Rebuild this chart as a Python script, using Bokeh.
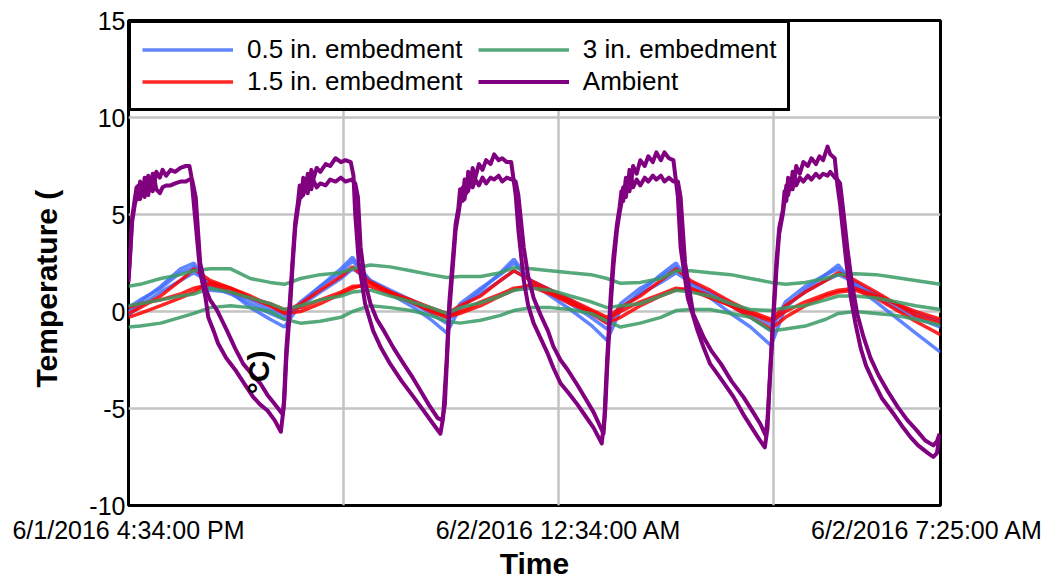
import math
from bokeh.plotting import figure
from bokeh.models import FixedTicker, Label, Legend, LegendItem, Title
from bokeh.embed import file_html
from bokeh.resources import INLINE

# ---------------- data (time in minutes after 6/1/2016 4:34:00 PM, temperature in deg C) -------------
tick_times = [0, 480, 891]
tick_labels = ["6/1/2016 4:34:00 PM", "6/2/2016 12:34:00 AM", "6/2/2016 7:25:00 AM"]
grid_times = [240, 480, 720]
y_ticks = [-10, -5, 0, 5, 10, 15]
y_tick_labels = ["-10", "-5", "0", "5", "10", "15"]

emb_t = [0, 13, 36, 58, 73, 91, 114, 136, 158, 174, 192, 214, 237, 250, 270, 292, 315, 337, 355, 370,
         393, 415, 430, 449, 471, 493, 516, 534, 549, 571, 594, 611, 627, 649, 672, 694, 717, 733, 755,
         778, 792, 811, 834, 856, 878, 906]

emb05_a = [0.0, 0.5, 1.3, 2.2, 2.5, 1.1, 1.0, 0.2, -0.4, -0.8, 0.4, 1.3, 2.2, 2.8, 1.5, 0.9, 0.3, -0.4, -1.1,
           0.2, 1.1, 2.0, 2.7, 1.5, 0.8, 0.1, -0.7, -1.5, 0.1, 1.0, 1.9, 2.5, 1.3, 0.7, -0.1, -0.8, -1.75,
           0.2, 1.1, 1.9, 2.4, 1.3, 0.5, -0.3, -1.1, -2.1]
emb05_b = [0.2, 0.6, 1.2, 2.0, 2.3, 1.3, 0.9, 0.4, -0.1, -0.4, 0.5, 1.3, 2.0, 2.6, 1.6, 1.0, 0.5, -0.1, -0.6,
           0.4, 1.2, 1.9, 2.5, 1.6, 1.0, 0.4, -0.3, -0.9, 0.4, 1.2, 1.8, 2.3, 1.5, 0.9, 0.3, -0.3, -1.0,
           0.5, 1.3, 1.9, 2.2, 1.4, 0.8, 0.2, -0.3, -0.8]
emb05_c = [-0.2, 0.3, 1.0, 1.6, 2.0, 1.5, 1.0, 0.6, 0.1, -0.2, 0.3, 1.0, 1.7, 2.2, 1.6, 1.1, 0.6, 0.1, -0.3,
           0.2, 0.9, 1.6, 2.1, 1.6, 1.1, 0.6, 0.0, -0.6, 0.2, 0.9, 1.5, 2.0, 1.5, 1.0, 0.4, -0.1, -0.7,
           0.3, 1.0, 1.6, 1.9, 1.5, 0.9, 0.4, -0.1, -0.5]

emb15_a = [-0.1, 0.2, 0.8, 1.6, 2.2, 1.6, 1.2, 0.7, 0.3, 0.0, 0.4, 1.1, 1.8, 2.3, 1.5, 1.0, 0.6, 0.2, -0.1,
           0.3, 0.8, 1.6, 2.1, 1.6, 1.1, 0.6, 0.1, -0.3, 0.2, 0.8, 1.6, 2.2, 1.6, 1.1, 0.5, 0.0, -0.4,
           0.3, 1.0, 1.6, 2.0, 1.6, 1.0, 0.4, -0.2, -0.6]
emb15_b = [-0.3, -0.1, 0.3, 0.7, 1.0, 1.5, 1.2, 0.8, 0.3, -0.1, 0.0, 0.4, 0.9, 1.2, 1.5, 1.0, 0.5, 0.0, -0.3,
           -0.1, 0.3, 0.8, 1.1, 1.4, 1.0, 0.5, -0.1, -0.6, -0.3, 0.3, 0.8, 1.1, 1.2, 0.8, 0.3, -0.3, -0.9,
           -0.3, 0.3, 0.8, 1.0, 1.1, 0.7, 0.1, -0.5, -1.2]
emb15_c = [0.2, 0.4, 0.6, 0.9, 1.2, 1.4, 1.0, 0.7, 0.4, 0.1, 0.2, 0.6, 1.0, 1.3, 1.3, 0.9, 0.5, 0.1, -0.2,
           0.0, 0.5, 0.9, 1.2, 1.3, 0.9, 0.4, 0.0, -0.4, 0.0, 0.5, 0.9, 1.2, 1.1, 0.7, 0.3, -0.1, -0.5,
           0.0, 0.5, 0.9, 1.1, 1.2, 0.8, 0.4, 0.0, -0.4]

emb3_a = [1.3, 1.4, 1.7, 1.9, 2.1, 2.2, 2.2, 1.7, 1.5, 1.4, 1.7, 1.9, 2.0, 2.2, 2.4, 2.3, 2.1, 1.9, 1.75,
          1.8, 1.8, 2.0, 2.25, 2.2, 2.1, 2.0, 1.9, 1.7, 1.45, 1.5, 1.7, 2.1, 2.1, 2.0, 1.9, 1.7, 1.5,
          1.4, 1.5, 1.7, 1.9, 1.95, 1.9, 1.75, 1.6, 1.4]
emb3_b = [0.3, 0.4, 0.6, 0.8, 0.9, 1.2, 1.0, 0.7, 0.4, 0.1, 0.3, 0.6, 0.8, 1.0, 1.1, 0.8, 0.5, 0.2, -0.1,
          0.2, 0.45, 0.8, 1.1, 1.2, 1.1, 0.8, 0.5, 0.2, 0.3, 0.4, 0.8, 1.1, 1.0, 0.8, 0.4, 0.1, 0.05,
          0.2, 0.3, 0.6, 0.8, 0.8, 0.7, 0.5, 0.3, 0.1]
emb3_c = [-0.8, -0.75, -0.6, -0.3, -0.1, 0.2, 0.3, 0.2, 0.0, -0.4, -0.6, -0.5, -0.3, 0.0, 0.3, 0.2, 0.05, -0.2, -0.5,
          -0.6, -0.45, -0.2, 0.05, 0.2, 0.2, 0.1, -0.1, -0.5, -0.8, -0.6, -0.3, 0.05, 0.1, 0.1, -0.1, -0.3, -1.0,
          -0.9, -0.75, -0.4, -0.1, 0.0, -0.1, -0.2, -0.4, -0.7]

amb1_t = [0, 2, 4, 7, 9, 11, 13, 16, 18, 20, 22, 25, 27, 29, 31, 35, 38, 42, 47, 52, 58, 64, 68, 70, 75, 80,
          86, 89, 95, 100, 109, 119, 129, 139, 147, 155, 163, 170,
          173, 176, 180, 183, 186, 189, 191, 193, 195, 198, 200, 202, 204, 206, 210, 214, 220, 225, 231, 237,
          242, 248, 251, 253, 257, 264, 273, 282, 292, 305, 318, 329, 340, 348,
          351, 355, 358, 362, 365, 368, 370, 373, 375, 377, 379, 382, 384, 387, 391, 395, 399, 404, 408, 413,
          417, 422, 427, 432, 435, 441, 446, 452, 460, 468, 474, 482, 491, 501, 510, 519, 528,
          531, 534, 538, 541, 545, 548, 550, 552, 555, 557, 559, 561, 563, 567, 571, 576, 580, 585, 589, 594,
          598, 603, 608, 613, 616, 624, 635, 642, 649, 663, 675, 686, 697, 704, 710,
          713, 716, 720, 723, 726, 730, 732, 734, 736, 739, 741, 743, 745, 749, 753, 758, 762, 767, 771, 775,
          780, 783, 788, 791, 794, 797, 801, 806, 811, 817, 823, 831, 841, 854, 863, 873, 881, 892, 898, 902, 905]
amb1_v = [1.5, 3.2, 4.8, 5.8, 6.4, 5.8, 6.7, 6.0, 6.9, 6.2, 7.0, 6.4, 7.1, 6.6, 7.2, 6.9, 7.3, 7.0, 7.3, 7.2,
          7.4, 7.5, 7.5, 7.0, 4.5, 2.0, 0.7, -0.3, -1.0, -1.65, -2.4, -3.0, -3.7, -4.4, -4.8, -5.1, -5.6, -6.2,
          -5.0, -2.0, 0.5, 2.6, 4.6, 5.6, 6.5, 5.9, 6.9, 6.2, 7.1, 6.5, 7.3, 6.8, 7.4, 7.2, 7.6, 7.5, 7.9, 7.7,
          7.8, 7.7, 7.0, 5.0, 2.5, 0.4, -1.0, -1.9, -2.7, -3.6, -4.4, -5.1, -5.8, -6.3,
          -5.5, -2.5, 0.5, 2.8, 4.5, 5.3, 6.3, 5.7, 6.8, 6.1, 7.2, 6.6, 7.4, 6.9, 7.6, 7.3, 7.8, 7.6, 8.1, 7.8,
          7.9, 7.7, 7.7, 6.0, 4.2, 1.6, 0.3, -0.6, -1.4, -2.2, -2.9, -3.7, -4.2, -4.8, -5.4, -6.0, -6.8,
          -5.5, -2.5, 0.8, 2.8, 4.5, 5.4, 6.2, 5.7, 6.9, 6.3, 7.3, 6.7, 7.5, 7.1, 7.8, 7.5, 8.0, 7.7, 8.2, 7.8,
          8.2, 7.9, 7.8, 5.9, 3.3, 0.7, -1.0, -1.9, -2.7, -3.6, -4.4, -5.3, -6.1, -6.6, -7.0,
          -6.0, -3.0, 0.3, 2.6, 4.3, 5.2, 6.2, 5.7, 6.9, 6.3, 7.2, 6.7, 7.5, 7.1, 7.7, 7.5, 7.9, 7.6, 8.0, 7.8,
          8.5, 8.1, 7.9, 6.5, 5.5, 4.2, 2.5, 0.7, -0.6, -1.9, -2.8, -3.6, -4.5, -5.3, -5.9, -6.5, -6.9, -7.3,
          -7.5, -7.3, -6.4]

amb2_t = [0, 2, 4, 7, 9, 11, 13, 16, 18, 20, 22, 25, 27, 29, 31, 35, 38, 42, 47, 52, 58, 64, 68, 71, 75, 80,
          86, 91, 99, 110, 119, 128, 137, 147, 155, 162, 172,
          174, 176, 180, 183, 186, 189, 191, 193, 195, 198, 200, 202, 204, 206, 210, 214, 220, 225, 231, 237,
          242, 249, 253, 256, 259, 264, 270, 277, 285, 296, 307, 317, 326, 335, 345, 350,
          353, 355, 358, 362, 365, 368, 370, 373, 375, 377, 379, 382, 384, 387, 391, 395, 399, 404, 408, 413,
          417, 422, 428, 432, 435, 441, 446, 452, 460, 468, 474, 482, 490, 501, 510, 519, 530,
          532, 534, 538, 541, 545, 548, 550, 552, 555, 557, 559, 561, 563, 567, 571, 576, 580, 585, 589, 594,
          598, 603, 608, 613, 616, 621, 630, 642, 650, 661, 673, 686, 697, 705, 711,
          713, 716, 720, 723, 726, 730, 732, 734, 736, 739, 741, 743, 745, 749, 753, 758, 762, 767, 771, 775,
          780, 783, 788, 791, 794, 798, 802, 807, 813, 820, 828, 837, 847, 858, 869, 879, 889, 898, 902, 905]
amb2_v = [1.7, 3.0, 4.6, 5.5, 5.9, 6.5, 5.8, 6.6, 5.9, 6.7, 6.0, 6.8, 6.2, 6.8, 6.3, 6.1, 6.4, 6.5, 6.5, 6.6,
          6.7, 6.7, 6.8, 6.8, 5.9, 2.5, 1.2, 0.6, 0.05, -1.0, -1.9, -2.7, -3.2, -3.7, -4.3, -4.7, -5.3,
          -4.5, -2.5, 0.0, 2.3, 4.3, 5.3, 5.8, 6.5, 6.0, 6.8, 6.1, 6.9, 6.3, 6.8, 6.4, 6.6, 6.5, 6.8, 6.7, 6.9,
          6.7, 6.8, 6.6, 5.9, 3.3, 1.5, 0.4, -0.4, -1.0, -1.9, -2.7, -3.4, -4.1, -4.8, -5.5, -5.6,
          -4.8, -2.8, 0.0, 2.4, 4.2, 5.0, 5.6, 6.4, 5.8, 6.7, 6.2, 6.9, 6.4, 6.8, 6.5, 6.9, 6.6, 6.9, 6.8, 7.0,
          6.7, 6.9, 6.8, 6.7, 6.0, 3.3, 1.8, 0.7, -0.2, -1.0, -1.8, -2.5, -3.0, -3.8, -4.5, -5.2, -6.3,
          -5.0, -3.0, 0.3, 2.3, 4.2, 5.1, 5.6, 6.4, 5.9, 6.7, 6.2, 6.9, 6.4, 6.8, 6.5, 6.9, 6.7, 7.0, 6.8, 7.0,
          6.7, 6.9, 6.7, 6.7, 5.9, 2.5, -0.1, -1.35, -2.0, -2.7, -3.6, -4.4, -5.2, -5.8, -6.4,
          -5.5, -3.2, 0.0, 2.2, 4.0, 5.0, 5.7, 6.5, 6.0, 6.8, 6.3, 7.0, 6.5, 6.9, 6.7, 7.0, 6.8, 7.1, 6.9, 7.1,
          7.0, 7.2, 6.9, 6.8, 6.6, 5.0, 3.3, 1.5, -0.1, -1.3, -2.4, -3.3, -4.1, -4.9, -5.6, -6.1, -6.65, -6.9,
          -6.7, -6.3]

series_names = ["0.5 in. embedment", "1.5 in. embedment", "3 in. embedment", "Ambient"]
series_colors = ["#4470ff", "#ff0000", "#379a63", "#800080"]

FONT = "Liberation Sans"

p = figure(width=1053, height=582, output_backend="svg", toolbar_location=None,
           x_range=(0, 906), y_range=(-10, 15),
           min_border_left=128, min_border_right=113, min_border_top=20, min_border_bottom=77)
p.background_fill_color = "white"
p.border_fill_color = "white"
p.outline_line_color = "black"
p.outline_line_width = 3
p.outline_line_alpha = 1.0

# axes
p.xaxis.ticker = FixedTicker(ticks=tick_times)
p.xaxis.major_label_overrides = {t: lab for t, lab in zip(tick_times, tick_labels)}
p.yaxis.ticker = FixedTicker(ticks=y_ticks)
p.yaxis.major_label_overrides = {t: lab for t, lab in zip(y_ticks, y_tick_labels)}
for ax in (p.xaxis[0], p.yaxis[0]):
    ax.axis_line_color = None
    ax.major_tick_line_color = None
    ax.minor_tick_line_color = None
    ax.major_tick_in = 0
    ax.major_tick_out = 0
    ax.major_label_text_font = FONT
    ax.major_label_text_font_size = "25px"
    ax.major_label_text_color = "black"
p.xaxis.major_label_standoff = 10
p.yaxis.major_label_standoff = 3
p.xaxis.axis_label = "Time"
p.xaxis.axis_label_standoff = 0
p.xaxis.axis_label_text_font = FONT
p.xaxis.axis_label_text_font_size = "30px"
p.xaxis.axis_label_text_font_style = "bold"
p.xaxis.axis_label_text_color = "black"

# grid
p.xgrid.ticker = FixedTicker(ticks=grid_times)
p.ygrid.ticker = FixedTicker(ticks=[-5, 0, 5, 10])
for g in (p.xgrid[0], p.ygrid[0]):
    g.grid_line_color = "#c3c3c3"
    g.grid_line_width = 2.5

# series
groups = [
    (emb_t, [emb05_a, emb05_b, emb05_c]),
    (emb_t, [emb15_a, emb15_b, emb15_c]),
    (emb_t, [emb3_a, emb3_b, emb3_c]),
]
first = []
for (tt, ys), col in zip(groups, series_colors[:3]):
    rs = [p.line(tt, y, line_color=col, line_width=3.5, line_alpha=0.85) for y in ys]
    first.append(rs[0])
ra1 = p.line(amb1_t, amb1_v, line_color=series_colors[3], line_width=4, line_join="round")
ra2 = p.line(amb2_t, amb2_v, line_color=series_colors[3], line_width=4, line_join="round")
first.append(ra1)

# first-column labels get two trailing spaces to open the gap before the second column
legend_labels = [series_names[0] + "  ", series_names[1] + "  ", series_names[2], series_names[3]]
legend = Legend(items=[LegendItem(label=n, renderers=[r]) for n, r in zip(legend_labels, first)],
                location="top_left", ncols=2)
legend.border_line_color = "black"
legend.border_line_alpha = 1.0
legend.border_line_width = 3
legend.background_fill_color = "white"
legend.background_fill_alpha = 1.0
legend.margin = 0
legend.padding = 11
legend.spacing = 1
legend.glyph_width = 91
legend.glyph_height = 21
legend.label_height = 21
legend.label_standoff = 14
legend.label_text_font = FONT
legend.label_text_font_size = "26px"
legend.label_text_color = "black"
p.add_layout(legend)

# y title (split in two pieces in the source image)
ytitle = Title(text="Temperature (", align="left", offset=118, standoff=47,
               text_font=FONT, text_font_size="30px", text_font_style="bold", text_color="black")
p.add_layout(ytitle, "left")
p.add_layout(Label(x=145, y=-3.14, text="°C)", angle=math.pi / 2, text_align="center",
                   text_baseline="middle", text_font=FONT, text_font_size="30px", text_font_style="bold",
                   text_color="black"))

open("out.html", "w").write(file_html(p, INLINE))
